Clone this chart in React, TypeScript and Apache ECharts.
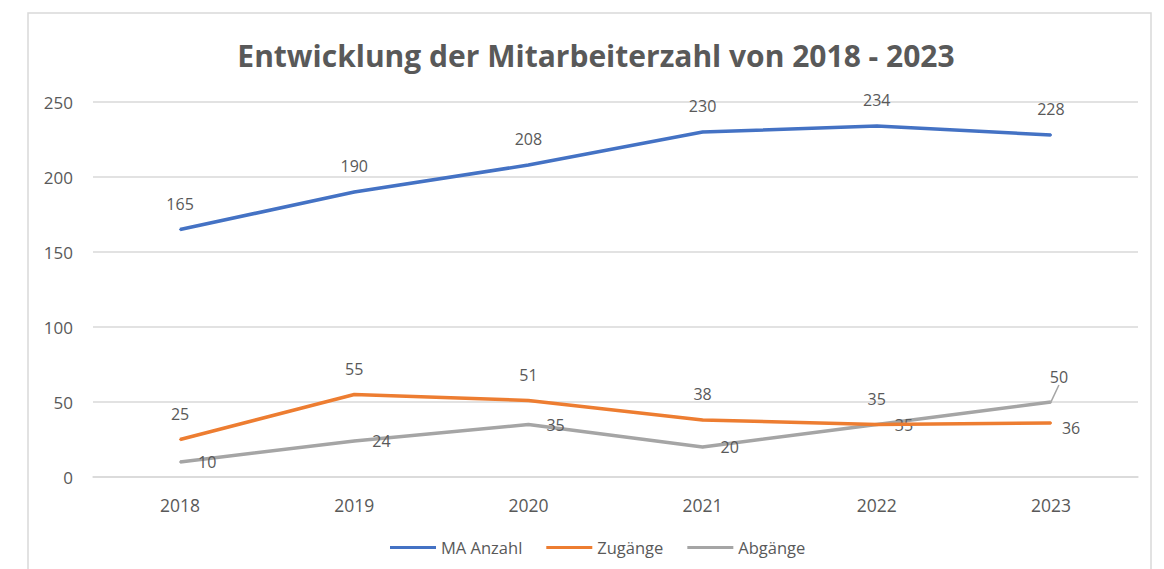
import React, { useEffect, useRef } from "react";
import * as echarts from "echarts";

const titleText = "Entwicklung der Mitarbeiterzahl von 2018 - 2023";
const years = ["2018", "2019", "2020", "2021", "2022", "2023"];
const maAnzahl = [165, 190, 208, 230, 234, 228];
const zugaenge = [25, 55, 51, 38, 35, 36];
const abgaenge = [10, 24, 35, 20, 35, 50];
const seriesNames = ["MA Anzahl", "Zugänge", "Abgänge"];
const colors = ["#4472C4", "#ED7D31", "#A5A5A5"];

const FONT = "'Open Sans', 'Noto Sans', sans-serif";
const TXT = "#595959";

export default function App() {
  const ref = useRef<HTMLDivElement>(null);
  useEffect(() => {
    if (!ref.current) return;
    const chart = echarts.init(ref.current, undefined, { renderer: "svg" });
    const labelBase = { show: true, color: TXT, fontSize: 16, fontFamily: FONT };
    chart.setOption({
      animation: false,
      backgroundColor: "#ffffff",
      textStyle: { fontFamily: FONT },
      graphic: [
        {
          type: "rect",
          shape: { x: 28, y: 13, width: 1123, height: 620 },
          style: { fill: "none", stroke: "#d9d9d9", lineWidth: 1.5 },
          silent: true,
          z: -10,
        },
      ],
      title: {
        text: titleText,
        left: 591,
        textAlign: "center",
        top: 35,
        textStyle: { color: TXT, fontSize: 30, fontWeight: "bold", fontFamily: FONT },
      },
      legend: {
        data: seriesNames,
        bottom: 8,
        left: 385,
        icon: "rect",
        itemWidth: 46,
        itemHeight: 3,
        itemGap: 24,
        textStyle: { color: TXT, fontSize: 16.5, fontFamily: FONT },
      },
      grid: { left: 93, right: 26, top: 102, bottom: 92 },
      xAxis: {
        type: "category",
        data: years,
        boundaryGap: true,
        axisLine: { show: true, lineStyle: { color: "#d9d9d9", width: 1.5 } },
        axisTick: { show: false },
        axisLabel: { color: TXT, fontSize: 17.5, margin: 19, fontFamily: FONT },
      },
      yAxis: {
        type: "value",
        min: 0,
        max: 250,
        interval: 50,
        axisLine: { show: false },
        axisTick: { show: false },
        axisLabel: { color: TXT, fontSize: 17, margin: 20, fontFamily: FONT },
        splitLine: { lineStyle: { color: "#d9d9d9", width: 1.5 } },
      },
      series: [
        {
          name: seriesNames[0],
          type: "line",
          data: maAnzahl,
          symbol: "circle",
          symbolSize: 2,
          lineStyle: { color: colors[0], width: 3.5 },
          itemStyle: { color: colors[0] },
          label: { ...labelBase, position: "top", distance: 17 },
          z: 3,
        },
        {
          name: seriesNames[1],
          type: "line",
          data: zugaenge.map((v, i) =>
            i === 5 ? { value: v, label: { position: "right", distance: 10, offset: [0, 5] } } : v
          ),
          symbol: "circle",
          symbolSize: 2,
          lineStyle: { color: colors[1], width: 3.5 },
          itemStyle: { color: colors[1] },
          label: { ...labelBase, position: "top", distance: 17 },
          z: 2,
        },
        {
          name: seriesNames[2],
          type: "line",
          data: abgaenge.map((v, i) =>
            i === 5
              ? {
                  value: v,
                  label: { position: "top", distance: 4, offset: [0, 0] },
                  labelLine: { show: true, lineStyle: { color: "#A5A5A5", width: 1.5 } },
                }
              : v
          ),
          symbol: "circle",
          symbolSize: 2,
          lineStyle: { color: colors[2], width: 3.5 },
          itemStyle: { color: colors[2] },
          label: { ...labelBase, position: "right", distance: 17, offset: [0, 3] },
          labelLayout: (p: any) => (p.dataIndex === 5 ? { dx: 8, dy: -12 } : {}),
          z: 1,
        },
      ],
    });
    return () => chart.dispose();
  }, []);
  return (
    <div
      ref={ref}
      style={{ position: "absolute", left: 0, top: 0, width: 1164, height: 569 }}
    />
  );
}
